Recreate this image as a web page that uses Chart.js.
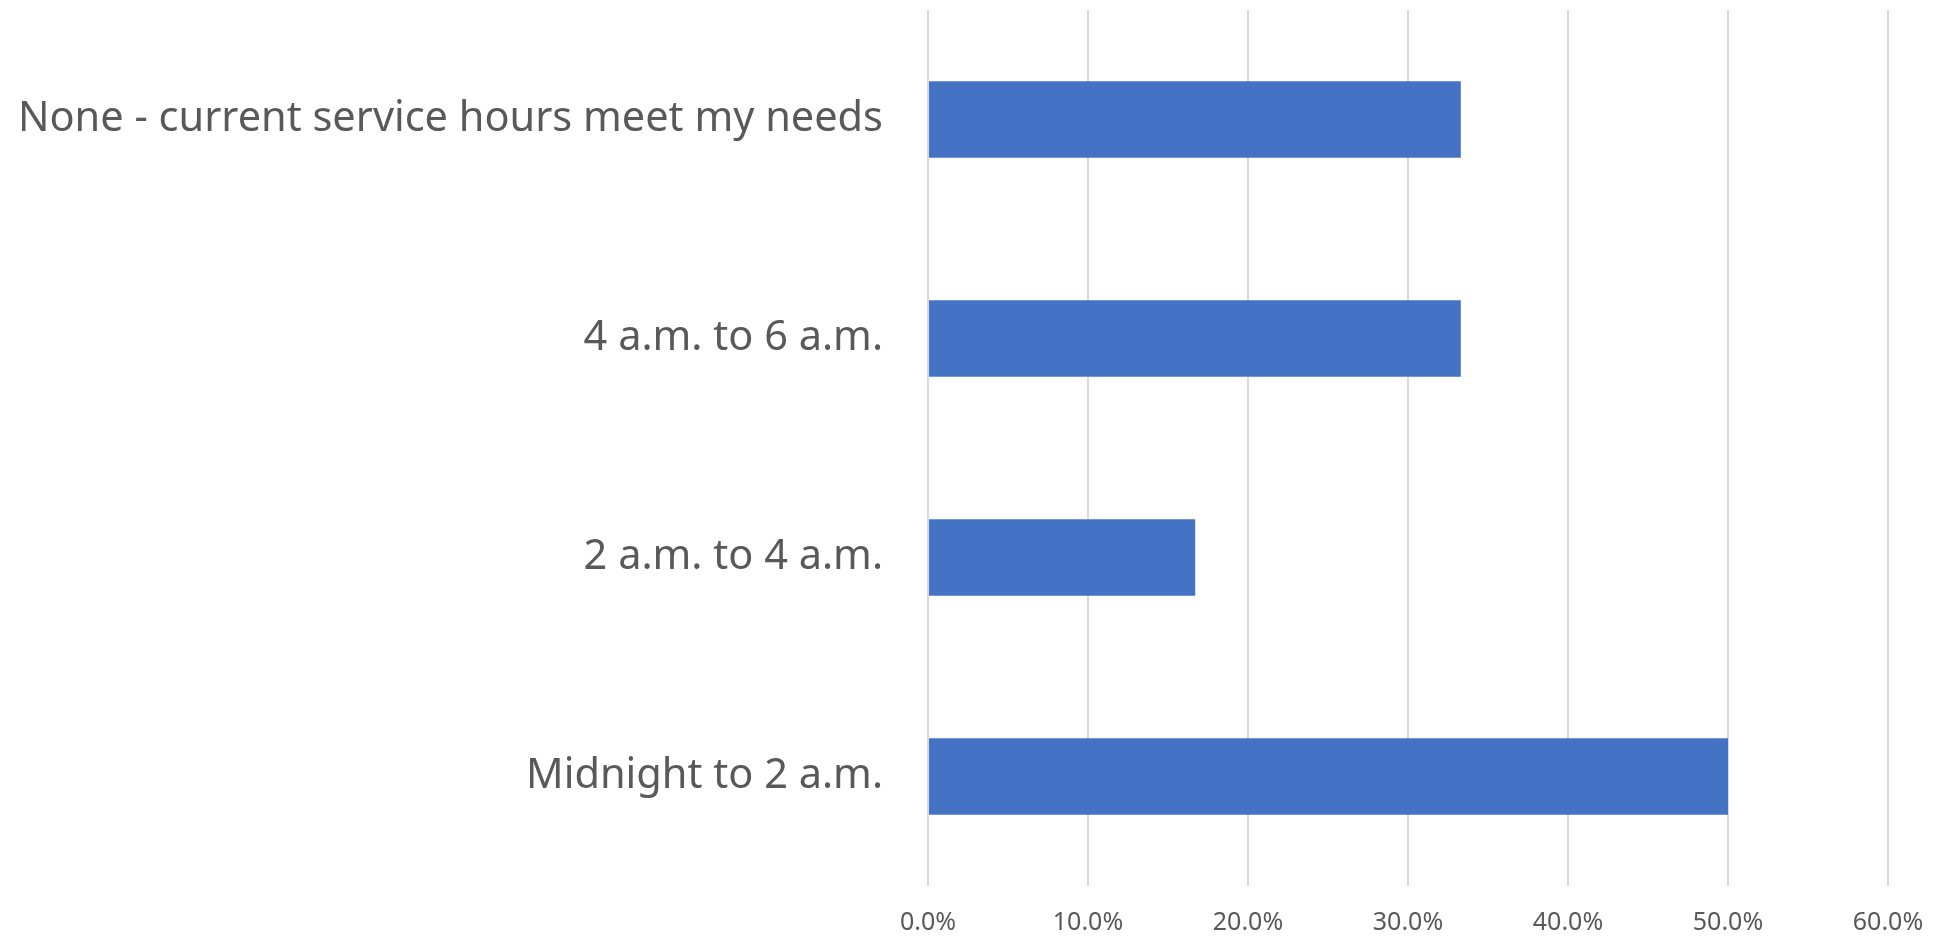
<!DOCTYPE html>
<html>
<head>
<meta charset="utf-8">
<script src="https://cdn.jsdelivr.net/npm/chart.js@4/dist/chart.umd.min.js"></script>
<style>
  html, body { margin: 0; padding: 0; background: #fff; }
  #wrap { width: 1936px; height: 942px; position: relative; }
</style>
</head>
<body>
<div id="wrap"><canvas id="chart"></canvas></div>
<script>
// categories top to bottom, as in the reference
const categories = [
  'None - current service hours meet my needs',
  '4 a.m. to 6 a.m.',
  '2 a.m. to 4 a.m.',
  'Midnight to 2 a.m.',
];
const shares = [33.3, 33.3, 16.7, 50.0];
const xTicks = [0, 10, 20, 30, 40, 50, 60];

const textColor = '#595959';
const gridColor = '#d9d9d9';

new Chart(document.getElementById('chart').getContext('2d'), {
  type: 'bar',
  data: {
    labels: categories,
    datasets: [{
      data: shares,
      backgroundColor: '#4472c4',
      borderWidth: 0,
      barPercentage: 0.7,
      categoryPercentage: 0.5,
    }],
  },
  options: {
    indexAxis: 'y',
    responsive: true,
    maintainAspectRatio: false,
    animation: false,
    layout: { padding: { top: 10, right: 48, left: 0, bottom: 0 } },
    plugins: { legend: { display: false }, tooltip: { enabled: false } },
    scales: {
      x: {
        min: xTicks[0],
        max: xTicks[xTicks.length - 1],
        afterBuildTicks: s => { s.ticks = xTicks.map(v => ({ value: v })); },
        afterFit: s => { s.height = 56; s.paddingLeft = 0; s.paddingRight = 0; },
        grid: { color: gridColor, lineWidth: 2, drawTicks: false },
        border: { display: false },
        ticks: {
          padding: 22,
          color: textColor,
          font: { family: 'Noto Sans', size: 25 },
          callback: v => v.toFixed(1) + '%',
        },
      },
      y: {
        // fixed axis width; drop the label padding chart.js adds above/below
        afterFit: s => { s.width = 928; s.paddingTop = 0; s.paddingBottom = 0; },
        grid: { display: false, drawTicks: false },
        border: { display: false },
        ticks: {
          padding: 45,
          color: textColor,
          font: { family: 'Noto Sans', size: 41.5 },
        },
      },
    },
  },
});
</script>
</body>
</html>
